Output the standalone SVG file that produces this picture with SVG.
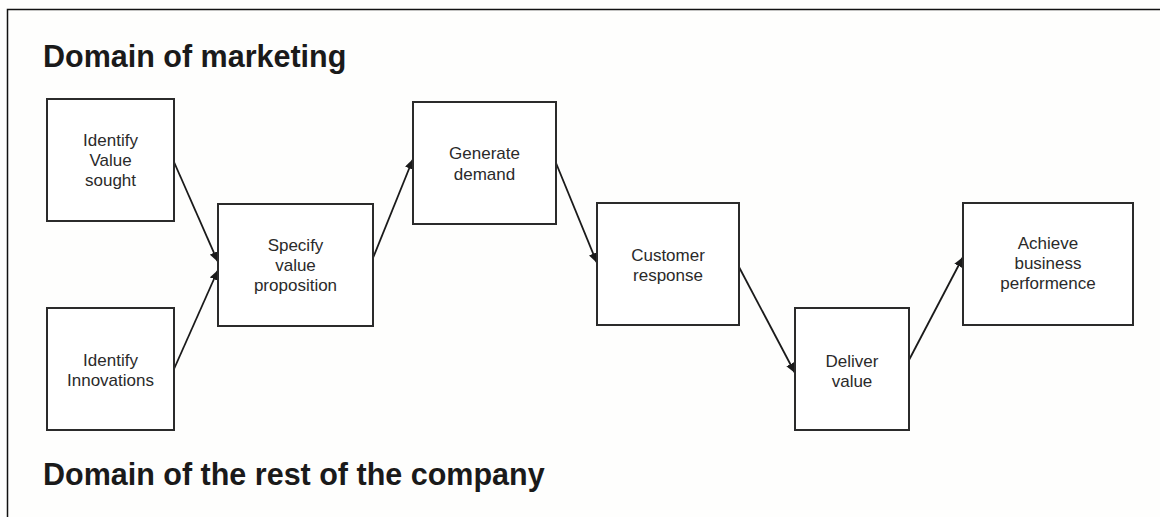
<svg xmlns="http://www.w3.org/2000/svg" width="1160" height="517" viewBox="0 0 1160 517">
<style>
.box{fill:#fff;stroke:#2b2b2b;stroke-width:2}
.t{font-family:"Liberation Sans",Arial,sans-serif;font-size:17px;fill:#2a2a2a;text-anchor:middle}
.h{font-family:"Liberation Sans",Arial,sans-serif;font-size:30.5px;font-weight:bold;fill:#1a1a1a}
.c{stroke:#1a1a1a;stroke-width:1.8;fill:none;marker-end:url(#ah)}
</style>
<defs>
<marker id="ah" markerWidth="11" markerHeight="9" refX="10" refY="4.5" orient="auto" markerUnits="userSpaceOnUse">
<path d="M0,0 L10,4.5 L0,9 Z" fill="#1a1a1a"/>
</marker>
</defs>
<rect width="1160" height="517" fill="#fefefd"/>
<path d="M7.5,517 V9.5 H1160" fill="none" stroke="#111" stroke-width="1.5"/>
<text class="h" x="43" y="67">Domain of marketing</text>
<text class="h" x="43" y="485">Domain of the rest of the company</text>
<g id="connectors">
<line class="c" x1="174" y1="162" x2="218" y2="262"/>
<line class="c" x1="174" y1="369" x2="218" y2="270"/>
<line class="c" x1="373" y1="258" x2="413" y2="159"/>
<line class="c" x1="556" y1="163" x2="597" y2="263"/>
<line class="c" x1="739" y1="267" x2="795" y2="373"/>
<line class="c" x1="909" y1="360" x2="963" y2="257"/>
</g>
<g id="n1"><rect class="box" x="47" y="99" width="127" height="122"/>
<text class="t" x="110.5" y="146">Identify</text><text class="t" x="110.5" y="166">Value</text><text class="t" x="110.5" y="186">sought</text></g>
<g id="n2"><rect class="box" x="218" y="204" width="155" height="122"/>
<text class="t" x="295.5" y="251">Specify</text><text class="t" x="295.5" y="271">value</text><text class="t" x="295.5" y="291">proposition</text></g>
<g id="n3"><rect class="box" x="47" y="308" width="127" height="122"/>
<text class="t" x="110.5" y="366">Identify</text><text class="t" x="110.5" y="386">Innovations</text></g>
<g id="n4"><rect class="box" x="413" y="102" width="143" height="122"/>
<text class="t" x="484.5" y="159">Generate</text><text class="t" x="484.5" y="180">demand</text></g>
<g id="n5"><rect class="box" x="597" y="203" width="142" height="122"/>
<text class="t" x="668" y="261">Customer</text><text class="t" x="668" y="281">response</text></g>
<g id="n6"><rect class="box" x="795" y="308" width="114" height="122"/>
<text class="t" x="852" y="367">Deliver</text><text class="t" x="852" y="387">value</text></g>
<g id="n7"><rect class="box" x="963" y="203" width="170" height="122"/>
<text class="t" x="1048" y="249">Achieve</text><text class="t" x="1048" y="269">business</text><text class="t" x="1048" y="289">performence</text></g>
</svg>
